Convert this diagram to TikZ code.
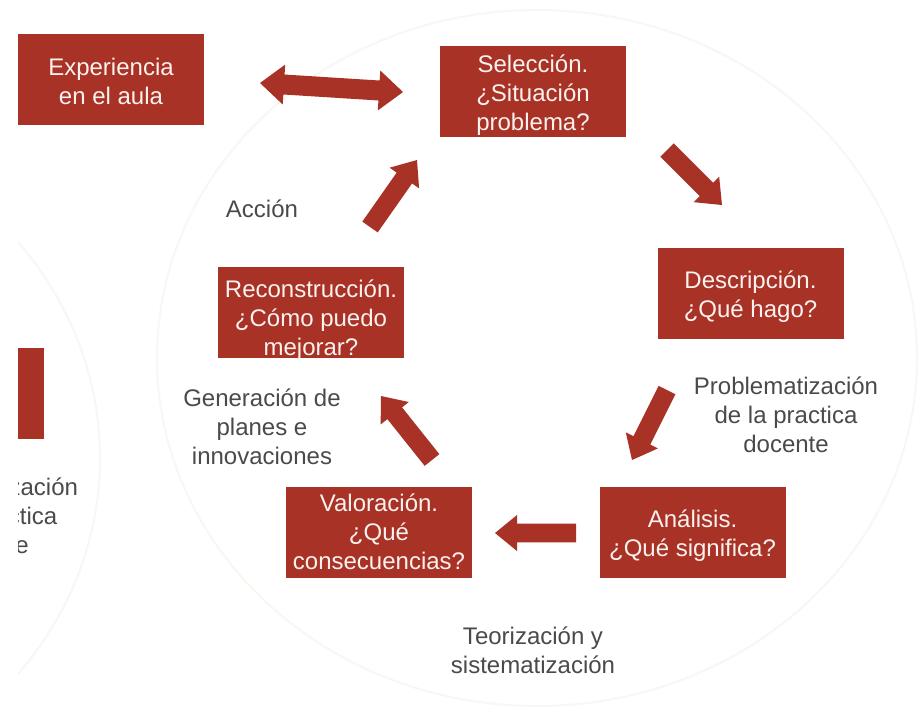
\documentclass[tikz,border=0pt]{standalone}
\usepackage{fontspec}
\setmainfont{Liberation Sans}
\usetikzlibrary{calc}
\definecolor{boxred}{HTML}{A93226}
\definecolor{labelgray}{HTML}{4A4A4A}
\definecolor{faint}{HTML}{F9F7F2}
\definecolor{boxtext}{HTML}{FBF1EE}
\tikzset{
  stagebox/.style={fill=boxred, minimum width=93pt, minimum height=45.5pt, inner sep=0pt},
  boxtextonly/.style={text=boxtext, inner sep=0pt, align=center, font=\fontsize{12}{14.5}\selectfont},
  steplabel/.style={text=labelgray, align=center, inner sep=0pt, font=\fontsize{12}{14.5}\selectfont},
  blockfill/.style={fill=boxred},
  ring/.style={draw=faint, line width=1pt}
}
% stage box: #1 name, #2 centre, #3 text offset downwards (px), #4 text
\newcommand\stage[4]{%
  \node[stagebox] (#1) at #2 {};
  \node[boxtextonly] (#1-t) at ($(#1.center)+(0,#3)$) {#4};
}
% block arrow from coordinate #1 (tail centre) to coordinate #2 (tip)
\newcommand\blockarrow[2]{%
  \coordinate (#1-h) at ($(#2)!11pt!(#1)$);
  \fill[blockfill] ($(#1)!4.7pt!90:(#2)$) -- ($(#1-h)!4.7pt!90:(#2)$) -- ($(#1-h)!9pt!90:(#2)$)
    -- (#2) -- ($(#1-h)!9pt!-90:(#2)$) -- ($(#1-h)!4.7pt!-90:(#2)$) -- ($(#1)!4.7pt!-90:(#2)$) -- cycle;
}
\begin{document}
\begin{tikzpicture}[x=0.5pt,y=-0.5pt]
\fill[white] (0,0) rectangle (919,714);
\useasboundingbox (0,0) rectangle (919,714);

% faint background rings
\draw[ring] (537,358) ellipse [x radius=380, y radius=348];

% clipped copy of the neighbouring part of the slide
\begin{scope}
  \clip (18,0) rectangle (919,714);
  \draw[ring] (-280,458) ellipse [x radius=380, y radius=348];
  \stage{descL}{(-49.5,393)}{4}{Descripción.\\¿Qué hago?}
  \node[steplabel] (probL) at (-14,516) {Problematización\\de la practica\\docente};
\end{scope}

% stage boxes
\stage{exp}{(111,79.5)}{1.5}{Experiencia\\en el aula}
\stage{sel}{(533,91.5)}{3.5}{Selección.\\¿Situación\\problema?}
\stage{desc}{(750.5,293)}{4}{Descripción.\\¿Qué hago?}
\stage{ana}{(692.5,532)}{3.5}{Análisis.\\¿Qué significa?}
\stage{val}{(379,532)}{0}{Valoración.\\¿Qué\\consecuencias?}
\stage{rec}{(311,312)}{8.5}{Reconstrucción.\\¿Cómo puedo\\mejorar?}

% labels
\node[steplabel] (acc) at (262,209) {Acción};
\node[steplabel] (gen) at (262,427) {Generación de\\planes e\\innovaciones};
\node[steplabel] (prob) at (786,415) {Problematización\\de la practica\\docente};
\node[steplabel] (teo) at (533,650) {Teorización y\\sistematización};

% double arrow between experience and selection
\coordinate (dl) at (260,83);
\coordinate (dr) at (403,92);
\coordinate (dl-h) at ($(dl)!12pt!(dr)$);
\coordinate (dr-h) at ($(dr)!12pt!(dl)$);
\fill[blockfill] (dl) -- ($(dl-h)!10pt!90:(dr)$) -- ($(dl-h)!5pt!90:(dr)$)
  -- ($(dr-h)!5pt!-90:(dl)$) -- ($(dr-h)!10pt!-90:(dl)$) -- (dr)
  -- ($(dr-h)!10pt!90:(dl)$) -- ($(dr-h)!5pt!90:(dl)$)
  -- ($(dl-h)!5pt!-90:(dr)$) -- ($(dl-h)!10pt!-90:(dr)$) -- cycle;

% cycle arrows
\coordinate (a1) at (667,150);  \coordinate (a1t) at (722,205);
\coordinate (a2) at (667,390);  \coordinate (a2t) at (632,460);
\coordinate (a3) at (576,533);  \coordinate (a3t) at (495,533);
\coordinate (a4) at (432,460);  \coordinate (a4t) at (381,396);
\coordinate (a5) at (370,227);  \coordinate (a5t) at (417,160);
\blockarrow{a1}{a1t}
\blockarrow{a2}{a2t}
\blockarrow{a3}{a3t}
\blockarrow{a4}{a4t}
\blockarrow{a5}{a5t}
\end{tikzpicture}
\end{document}
